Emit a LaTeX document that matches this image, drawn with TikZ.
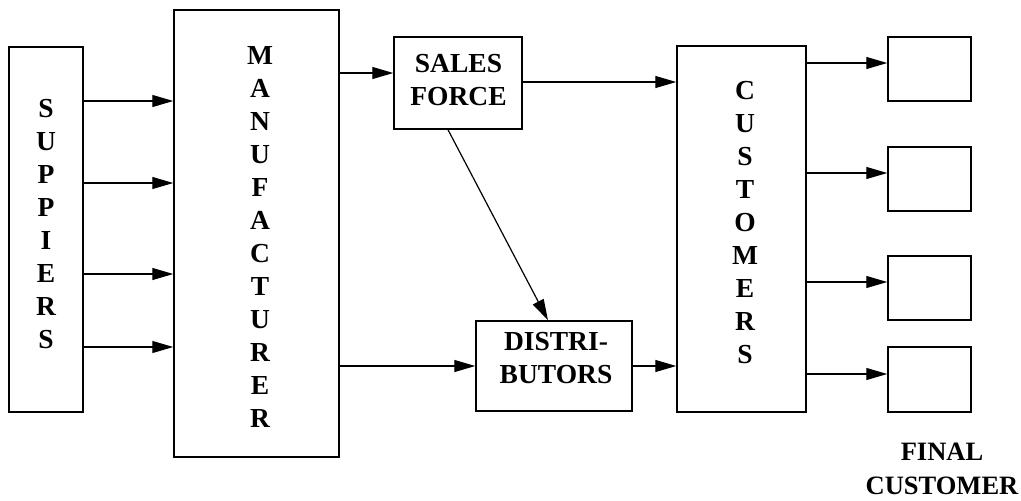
\documentclass[tikz,border=0pt]{standalone}
\usepackage{fontspec}
\setmainfont{Liberation Serif}[BoldFont={Liberation Serif Bold}]
\usetikzlibrary{arrows.meta}
\begin{document}
\begin{tikzpicture}[x=1pt,y=-1pt,
  box/.style={draw, line width=1.5pt, rectangle, inner sep=0pt},
  txt/.style={inner sep=0pt, align=center, font=\bfseries\fontsize{27.5}{33}\selectfont},
  arr/.style={line width=1.2pt, -{Triangle[length=21pt,width=12pt]}},
  lbl/.style={inner sep=0pt, align=center, font=\bfseries\fontsize{26.5}{34}\selectfont}]
\useasboundingbox (0,0) rectangle (1021,501);
% boxes
\node[box, minimum width=74pt, minimum height=365pt] (sup) at (46,229.5) {};
\node[box, minimum width=165pt, minimum height=447pt] (man) at (256.5,233.5) {};
\node[box, minimum width=128pt, minimum height=92pt] (sf) at (458,83) {};
\node[box, minimum width=156pt, minimum height=90pt] (dist) at (554,366) {};
\node[box, minimum width=129pt, minimum height=366pt] (cust) at (741.5,229) {};
\node[box, minimum width=83pt, minimum height=64pt] (f1) at (929.5,69) {};
\node[box, minimum width=83pt, minimum height=64pt] (f2) at (929.5,179) {};
\node[box, minimum width=83pt, minimum height=64pt] (f3) at (929.5,288) {};
\node[box, minimum width=83pt, minimum height=65pt] (f4) at (929.5,379.5) {};
% texts
\node[txt] (suptxt) at (46,224.5) {S\\U\\P\\P\\I\\E\\R\\S};
\node[txt] (mantxt) at (260,236.5) {M\\A\\N\\U\\F\\A\\C\\T\\U\\R\\E\\R};
\node[txt] (sftxt) at (458.5,80) {SALES\\FORCE};
\node[txt] (disttxt) at (556,358.5) {DISTRI-\\BUTORS};
\node[txt] (custtxt) at (745,223) {C\\U\\S\\T\\O\\M\\E\\R\\S};
\node[lbl, anchor=base] (final) at (942,494) {FINAL\\CUSTOMER};
% connectors
\foreach \y in {101,183,274,347}
  \draw[arr] (sup.east |- 0,\y) -- (man.west |- 0,\y);
\draw[arr] (man.east |- 0,73) -- (sf.west |- 0,73);
\draw[arr] (sf.east |- 0,82) -- (cust.west |- 0,82);
\draw[arr] (sf.south -| 448,0) -- (dist.north -| 548,0);
\draw[arr] (man.east |- dist.west) -- (dist.west);
\draw[arr] (dist.east) -- (cust.west |- dist.east);
\draw[arr] (cust.east |- 0,63) -- (f1.west |- 0,63);
\draw[arr] (cust.east |- 0,173) -- (f2.west |- 0,173);
\draw[arr] (cust.east |- 0,282) -- (f3.west |- 0,282);
\draw[arr] (cust.east |- 0,374) -- (f4.west |- 0,374);
\end{tikzpicture}
\end{document}
